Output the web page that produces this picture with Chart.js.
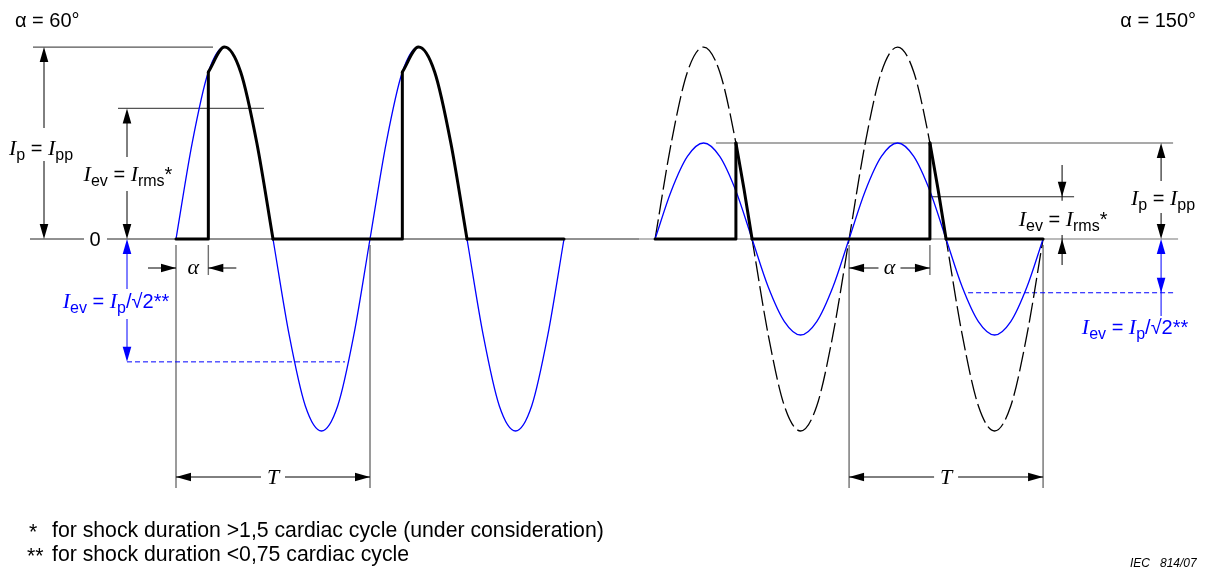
<!DOCTYPE html>
<html>
<head>
<meta charset="utf-8">
<script src="https://cdn.jsdelivr.net/npm/chart.js@4.4.1/dist/chart.umd.min.js"></script>
<style>
  html, body { margin: 0; padding: 0; background: #fff; }
  canvas { display: block; }
</style>
</head>
<body>
<canvas id="chart" width="1211" height="574"></canvas>
<script>
// phase angle of each sample (degrees), one period T = 360
const phaseDeg = [0, 30, 60, 90, 120, 150, 180, 210, 240, 270, 300, 330, 360,
  390, 420, 450, 480, 510, 540, 570, 600, 630, 660, 690, 720];

// left diagram (alpha = 60), prospective current, relative to Ip
const leftSine = [0, 0.5, 0.87, 1, 0.87, 0.5, 0, -0.5, -0.87, -1, -0.87, -0.5, 0,
  0.5, 0.87, 1, 0.87, 0.5, 0, -0.5, -0.87, -1, -0.87, -0.5, 0];

// right diagram (alpha = 150), full sine drawn dashed
const rightDashedSine = [0, 0.5, 0.87, 1, 0.87, 0.5, 0, -0.5, -0.87, -1, -0.87, -0.5, 0,
  0.5, 0.87, 1, 0.87, 0.5, 0, -0.5, -0.87, -1, -0.87, -0.5, 0];

// right diagram, equivalent sine (blue)
const rightBlueSine = [0, 0.25, 0.43, 0.5, 0.43, 0.25, 0, -0.25, -0.43, -0.5, -0.43, -0.25, 0,
  0.25, 0.43, 0.5, 0.43, 0.25, 0, -0.25, -0.43, -0.5, -0.43, -0.25, 0];

// firing angles and the conducting part of each half wave
const firingDeg = [60, 150];
const leftPulseDeg = [60, 90, 120, 150, 180];
const leftPulse = [0.87, 1, 0.87, 0.5, 0];
const rightPulseDeg = [150, 165, 180];
const rightPulse = [0.5, 0.26, 0];

// levels marked by the dimension lines
const peakLevel = [1, 0.5];
const rmsLevel = [0.68, 0.22];
const evLevel = [-0.64, -0.28];

// phase offset of the right diagram on the shared axis
const rightOffset = 889;

const titles = ['\u03b1 = 60\u00b0', '\u03b1 = 150\u00b0'];
const footnotes = [
  ['*', 'for shock duration >1,5 cardiac cycle (under consideration)'],
  ['**', 'for shock duration <0,75 cardiac cycle']
];
const figRef = 'IEC   814/07';

const BLUE = '#0000ff';

function series(values, off) {
  return phaseDeg.map((d, i) => ({ x: off + d, y: values[i] }));
}

// zero stretches plus the vertical jump at each firing
function flatPoints(alpha, top, off) {
  const pts = [];
  let from = 0;
  for (let c = 0; c < 2; c++) {
    const fire = c * 360 + alpha;
    pts.push({ x: off + from, y: 0 }, { x: off + fire, y: 0 }, { x: off + fire, y: top }, { x: off + fire + 1, y: null });
    from = c * 360 + 180;
  }
  pts.push({ x: off + from, y: 0 }, { x: off + 720, y: 0 });
  return pts;
}

function arcPoints(degs, vals, off) {
  const pts = [];
  for (let c = 0; c < 2; c++) {
    degs.forEach((d, i) => pts.push({ x: off + c * 360 + d, y: vals[i] }));
    pts.push({ x: off + c * 360 + 200, y: null });
  }
  return pts;
}

const F = {
  txt: '20px "Liberation Sans", Arial, sans-serif',
  it: 'italic 22px "Liberation Serif", "Times New Roman", serif',
  sub: '16px "Liberation Sans", Arial, sans-serif'
};

function rich(ctx, parts, cx, base, color) {
  ctx.save();
  ctx.fillStyle = color || '#000';
  ctx.textBaseline = 'alphabetic';
  ctx.textAlign = 'left';
  let w = 0;
  parts.forEach(p => { ctx.font = F[p[1]]; w += ctx.measureText(p[0]).width; });
  let x = cx - w / 2;
  parts.forEach(p => {
    ctx.font = F[p[1]];
    ctx.fillText(p[0], x, p[1] === 'sub' ? base + 5 : base);
    x += ctx.measureText(p[0]).width;
  });
  ctx.restore();
}

function seg(ctx, x1, y1, x2, y2, color, w, dash) {
  ctx.save();
  ctx.strokeStyle = color;
  ctx.lineWidth = w;
  ctx.setLineDash(dash || []);
  ctx.beginPath();
  ctx.moveTo(x1, y1);
  ctx.lineTo(x2, y2);
  ctx.stroke();
  ctx.restore();
}

// filled arrow head, (dx, dy) is the direction it points to
function head(ctx, tx, ty, dx, dy, color) {
  const L = 15, H = 4.3;
  ctx.save();
  ctx.fillStyle = color;
  ctx.beginPath();
  ctx.moveTo(tx, ty);
  ctx.lineTo(tx - dx * L - dy * H, ty - dy * L + dx * H);
  ctx.lineTo(tx - dx * L + dy * H, ty - dy * L - dx * H);
  ctx.closePath();
  ctx.fill();
  ctx.restore();
}

const dimensionPlugin = {
  id: 'dimensions',
  beforeDatasetsDraw(chart) {
    const ctx = chart.ctx;
    const X = v => chart.scales.x.getPixelForValue(v);
    const Y = v => chart.scales.y.getPixelForValue(v);
    const R = rightOffset;
    const ext = '#707070';

    // zero line
    seg(ctx, 30, Y(0), 84, Y(0), '#222', 1);
    seg(ctx, 107, Y(0), X(R) - 16, Y(0), '#222', 1);
    seg(ctx, X(R) - 16, Y(0), X(R + 720) + 135, Y(0), '#777', 1.2);

    // extension lines, left
    seg(ctx, 33, Y(peakLevel[0]), X(0) + 37, Y(peakLevel[0]), '#555', 1.2);
    seg(ctx, 118, Y(rmsLevel[0]), X(0) + 88, Y(rmsLevel[0]), '#555', 1.2);
    seg(ctx, X(0), Y(0) + 6, X(0), 488, ext, 1.4);
    seg(ctx, X(firingDeg[0]), Y(0) + 6, X(firingDeg[0]), 275, ext, 1.4);
    seg(ctx, X(360), Y(0) + 6, X(360), 488, ext, 1.4);
    seg(ctx, 127, Y(evLevel[0]), X(0) + 169, Y(evLevel[0]), BLUE, 1, [5, 3]);

    // extension lines, right
    seg(ctx, X(R + firingDeg[1]) - 20, Y(peakLevel[1]), X(R + 720) + 130, Y(peakLevel[1]), '#555', 1.2);
    seg(ctx, X(R + 360 + firingDeg[1]), Y(rmsLevel[1]), X(R + 720) + 31, Y(rmsLevel[1]), '#222', 1);
    seg(ctx, X(R + 360), Y(0) + 6, X(R + 360), 488, ext, 1.4);
    seg(ctx, X(R + 360 + firingDeg[1]), Y(0) + 6, X(R + 360 + firingDeg[1]), 275, ext, 1.4);
    seg(ctx, X(R + 720), Y(0) + 6, X(R + 720), 488, ext, 1.4);
    seg(ctx, X(R + 720) - 75, Y(evLevel[1]), X(R + 720) + 130, Y(evLevel[1]), BLUE, 1, [5, 3]);
  },
  afterDatasetsDraw(chart) {
    const ctx = chart.ctx;
    const X = v => chart.scales.x.getPixelForValue(v);
    const Y = v => chart.scales.y.getPixelForValue(v);
    const R = rightOffset;
    const k = '#000';

    // titles and zero label
    ctx.save();
    ctx.font = F.txt;
    ctx.fillStyle = k;
    ctx.textBaseline = 'alphabetic';
    ctx.textAlign = 'left';
    ctx.fillText(titles[0], 15, 27);
    ctx.textAlign = 'right';
    ctx.fillText(titles[1], 1196, 27);
    ctx.textAlign = 'center';
    ctx.textBaseline = 'middle';
    ctx.fillText('0', 95, Y(0) + 1);
    ctx.restore();

    // left: Ip = Ipp
    let x = 44;
    seg(ctx, x, Y(peakLevel[0]) + 4, x, 128, k, 1);
    seg(ctx, x, 161, x, Y(0) - 4, k, 1);
    head(ctx, x, Y(peakLevel[0]), 0, -1, k);
    head(ctx, x, Y(0), 0, 1, k);
    rich(ctx, [['I', 'it'], ['p', 'sub'], [' = ', 'txt'], ['I', 'it'], ['pp', 'sub']], 41, 155);

    // left: Iev = Irms*
    x = 127;
    seg(ctx, x, Y(rmsLevel[0]) + 4, x, 157, k, 1);
    seg(ctx, x, 191, x, Y(0) - 4, k, 1);
    head(ctx, x, Y(rmsLevel[0]), 0, -1, k);
    head(ctx, x, Y(0), 0, 1, k);
    rich(ctx, [['I', 'it'], ['ev', 'sub'], [' = ', 'txt'], ['I', 'it'], ['rms', 'sub'], ['*', 'txt']], 128, 181);

    // left: Iev = Ip/sqrt2 (blue)
    seg(ctx, x, Y(0) + 4, x, 289, BLUE, 1);
    seg(ctx, x, 319, x, Y(evLevel[0]) - 4, BLUE, 1);
    head(ctx, x, Y(0), 0, -1, BLUE);
    head(ctx, x, Y(evLevel[0]), 0, 1, BLUE);
    rich(ctx, [['I', 'it'], ['ev', 'sub'], [' = ', 'txt'], ['I', 'it'], ['p', 'sub'], ['/\u221a2**', 'txt']], 116, 308, BLUE);

    // left: alpha (arrows outside)
    const ya = 268;
    seg(ctx, X(0) - 28, ya, X(0), ya, k, 1);
    head(ctx, X(0), ya, 1, 0, k);
    seg(ctx, X(firingDeg[0]) + 28, ya, X(firingDeg[0]), ya, k, 1);
    head(ctx, X(firingDeg[0]), ya, -1, 0, k);
    rich(ctx, [['\u03b1', 'it']], (X(0) + X(firingDeg[0])) / 2 + 1, ya + 6);

    // left: T
    const yt = 477;
    let mid = (X(0) + X(360)) / 2;
    seg(ctx, X(0), yt, mid - 12, yt, k, 1);
    seg(ctx, mid + 12, yt, X(360), yt, k, 1);
    head(ctx, X(0), yt, -1, 0, k);
    head(ctx, X(360), yt, 1, 0, k);
    rich(ctx, [['T', 'it']], mid, yt + 7);

    // right: alpha (arrows inside)
    const a0 = X(R + 360), a1 = X(R + 360 + firingDeg[1]);
    mid = (a0 + a1) / 2;
    seg(ctx, a0, ya, mid - 11, ya, k, 1);
    seg(ctx, mid + 11, ya, a1, ya, k, 1);
    head(ctx, a0, ya, -1, 0, k);
    head(ctx, a1, ya, 1, 0, k);
    rich(ctx, [['\u03b1', 'it']], mid, ya + 6);

    // right: T
    mid = (X(R + 360) + X(R + 720)) / 2;
    seg(ctx, X(R + 360), yt, mid - 12, yt, k, 1);
    seg(ctx, mid + 12, yt, X(R + 720), yt, k, 1);
    head(ctx, X(R + 360), yt, -1, 0, k);
    head(ctx, X(R + 720), yt, 1, 0, k);
    rich(ctx, [['T', 'it']], mid, yt + 7);

    // right: Ip = Ipp
    x = X(R + 720) + 118;
    seg(ctx, x, Y(peakLevel[1]) + 4, x, 181, k, 1);
    seg(ctx, x, 213, x, Y(0) - 4, k, 1);
    head(ctx, x, Y(peakLevel[1]), 0, -1, k);
    head(ctx, x, Y(0), 0, 1, k);
    rich(ctx, [['I', 'it'], ['p', 'sub'], [' = ', 'txt'], ['I', 'it'], ['pp', 'sub']], x + 2, 205);

    // right: Iev = Ip/sqrt2 (blue)
    seg(ctx, x, Y(0) + 4, x, 316, BLUE, 1);
    head(ctx, x, Y(0), 0, -1, BLUE);
    head(ctx, x, Y(evLevel[1]), 0, 1, BLUE);
    rich(ctx, [['I', 'it'], ['ev', 'sub'], [' = ', 'txt'], ['I', 'it'], ['p', 'sub'], ['/\u221a2**', 'txt']], x - 26, 334, BLUE);

    // right: Iev = Irms* (arrows from outside)
    const xr = X(R + 720) + 19;
    seg(ctx, xr, 165, xr, Y(rmsLevel[1]) + 4, k, 1);
    head(ctx, xr, Y(rmsLevel[1]), 0, 1, k);
    seg(ctx, xr, Y(0) - 4, xr, 265, k, 1);
    head(ctx, xr, Y(0), 0, -1, k);
    rich(ctx, [['I', 'it'], ['ev', 'sub'], [' = ', 'txt'], ['I', 'it'], ['rms', 'sub'], ['*', 'txt']], xr + 1, 226);

    // footnotes, sized to the width they take in the figure
    ctx.save();
    ctx.fillStyle = k;
    ctx.textAlign = 'left';
    ctx.textBaseline = 'alphabetic';
    ctx.font = '18px "Liberation Sans", Arial, sans-serif';
    const size = 18 * 552 / ctx.measureText(footnotes[0][1]).width;
    ctx.font = size.toFixed(2) + 'px "Liberation Sans", Arial, sans-serif';
    ctx.fillText(footnotes[0][0], 29, 539);
    ctx.fillText(footnotes[0][1], 52, 537);
    ctx.fillText(footnotes[1][0], 27, 563);
    ctx.fillText(footnotes[1][1], 52, 561);
    ctx.font = 'italic 12px "Liberation Sans", Arial, sans-serif';
    ctx.fillText(figRef, 1130, 567);
    ctx.restore();
  }
};

new Chart(document.getElementById('chart'), {
  type: 'line',
  data: {
    datasets: [
      {
        label: 'Conducting current, flat parts',
        data: [...flatPoints(firingDeg[0], leftPulse[0], 0), { x: 800, y: null }, ...flatPoints(firingDeg[1], rightPulse[0], rightOffset)],
        borderColor: '#000',
        borderWidth: 3,
        tension: 0,
        borderJoinStyle: 'round',
        borderCapStyle: 'round',
        spanGaps: false
      },
      {
        label: 'Conducting current, arcs',
        data: [...arcPoints(leftPulseDeg, leftPulse, 0), ...arcPoints(rightPulseDeg, rightPulse, rightOffset)],
        borderColor: '#000',
        borderWidth: 3,
        cubicInterpolationMode: 'monotone',
        borderCapStyle: 'round',
        spanGaps: false
      },
      {
        label: 'Left sine',
        data: series(leftSine, 0),
        borderColor: BLUE,
        borderWidth: 1.3,
        cubicInterpolationMode: 'monotone'
      },
      {
        label: 'Right equivalent sine',
        data: series(rightBlueSine, rightOffset),
        borderColor: BLUE,
        borderWidth: 1.3,
        cubicInterpolationMode: 'monotone'
      },
      {
        label: 'Right full sine',
        data: series(rightDashedSine, rightOffset),
        borderColor: '#000',
        borderWidth: 1.3,
        borderDash: [20, 5],
        cubicInterpolationMode: 'monotone'
      }
    ]
  },
  options: {
    responsive: false,
    animation: false,
    layout: { padding: 0 },
    elements: { point: { radius: 0, hoverRadius: 0 } },
    plugins: {
      legend: { display: false },
      tooltip: { enabled: false }
    },
    scales: {
      x: { type: 'linear', min: -326.6, max: 1920.6, display: false },
      y: { min: -1.745, max: 1.245, display: false }
    }
  },
  plugins: [dimensionPlugin]
});
</script>
</body>
</html>
